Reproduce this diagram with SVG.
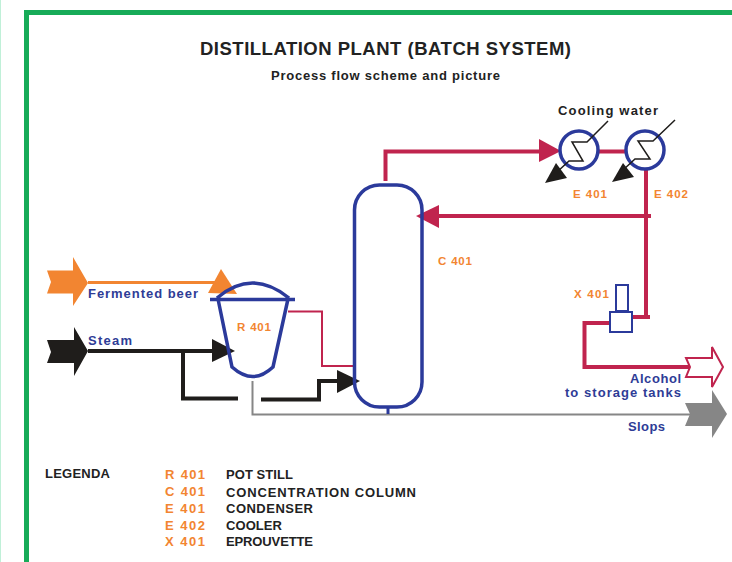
<svg xmlns="http://www.w3.org/2000/svg" width="732" height="562" viewBox="0 0 732 562">
<style>
text{font-family:"Liberation Sans",Arial,sans-serif;font-weight:bold}
.k{fill:#222}.b{fill:#2e3c96}.o{fill:#f28531}
.t{font-size:13px}.tag{font-size:11.5px}
.eq{fill:none;stroke:#2b3a9b;stroke-width:3.5}
.thin{fill:#fff;stroke:#2b3a9b;stroke-width:2}
.r{fill:none;stroke:#c0244e;stroke-width:4}
.r2{fill:none;stroke:#c0244e;stroke-width:2}
.bl{fill:none;stroke:#1f1d1b;stroke-width:4}
.c{fill:none;stroke:#1f1d1b;stroke-width:1.5}
</style>
<rect width="732" height="562" fill="#fff"/>
<rect x="0" y="0" width="1" height="562" fill="#c0f0d8"/>
<path d="M26.500 562V12.500H732" fill="none" stroke="#17ab58" stroke-width="5"/>
<g id="titles">
<text x="200" y="55" font-size="18.500" class="k" textLength="371">DISTILLATION PLANT (BATCH SYSTEM)</text>
<text x="271" y="80" class="k" font-size="13" textLength="229">Process flow scheme and picture</text>
</g>
<g id="connectors">
<path class="r" d="M385.500 181V151.500H541"/>
<path class="r" d="M598 151.500H627"/>
<path class="r" d="M646 169V318"/>
<path class="r" d="M651 216H437"/>
<path class="r" d="M632 317H650"/>
<path class="r" d="M610 323H584.500V367H690"/>
<path class="r2" d="M288 311.500H322V366H354"/>
<path fill="none" stroke="#868686" stroke-width="2" d="M252.500 381V414.500H690"/>
<path class="bl" d="M88 351H214M183 351V398.500H238M261 399.500H319V381H338"/>
<path fill="none" stroke="#f28531" stroke-width="3" d="M88 282.500H216"/>
<path fill="#f28531" d="M47 270.500H73V257L88 283L73 306V293.500H47L51 282Z"/>
<path fill="#f28531" d="M221 269L237 294L208 293Z"/>
<path fill="#1f1d1b" d="M47 340H74V327L88 351L74 376V363H47L51 352Z"/>
<path fill="#1f1d1b" d="M212 339L235 351L212 362Z"/>
<path fill="#1f1d1b" d="M337 370L360 381L337 393Z"/>
<path fill="#c0244e" d="M439 205L416 216L439 228Z"/>
<path fill="#c0244e" d="M539 139L561 151L539 162Z"/>
<path fill="#fff" stroke="#c0244e" stroke-width="2" d="M686 358H712V347L723 367L712 387V377H686L690 367Z"/>
<path fill="#868686" d="M685 403H712V390L727 414L712 438V426H685L690 414Z"/>
</g>
<g id="E401">
<circle class="eq" cx="579" cy="150" r="19"/>
<path class="c" d="M608 121L587 142H572L583 161H569L557 172"/>
<path fill="#1f1d1b" d="M545 183L556 163L567 178Z"/>
<text x="573" y="198" class="o tag" textLength="34">E 401</text>
</g>
<g id="E402">
<circle class="eq" cx="645" cy="150" r="19"/>
<path class="c" d="M675 120L653 141H638L650 159H635L623 170"/>
<path fill="#1f1d1b" d="M612 182L623 163L634 177Z"/>
<text x="654" y="198" class="o tag" textLength="34">E 402</text>
</g>
<g id="C401">
<rect class="eq" x="354.500" y="185" width="67.500" height="222" rx="25" ry="25"/>
<path stroke="#2b3a9b" stroke-width="3" d="M388 407V414"/>
<text x="438" y="265" class="o tag" textLength="34">C 401</text>
</g>
<g id="R401">
<path class="eq" d="M210 299.500H295M217 298Q252 268 289 298M218 299L232 367Q253 386 273 367L288 299"/>
<text x="237" y="331" class="o tag" textLength="34">R 401</text>
</g>
<g id="X401">
<rect class="thin" x="616" y="285" width="12" height="26"/>
<rect class="thin" x="610" y="312" width="22" height="20"/>
<text x="574" y="298" class="o tag" textLength="35">X 401</text>
</g>
<g id="labels">
<text x="558" y="115" class="k t" textLength="100">Cooling water</text>
<text x="88" y="298" class="b t" textLength="110">Fermented beer</text>
<text x="88" y="345" class="b t" textLength="44">Steam</text>
<text x="630" y="382.500" class="b t" textLength="51">Alcohol</text>
<text x="565" y="396.500" class="b t" textLength="116">to storage tanks</text>
<text x="628" y="431" class="b t" textLength="37">Slops</text>
</g>
<g id="legend">
<text x="45" y="478" class="k t" textLength="65">LEGENDA</text>
<text x="165" y="479" class="o t" textLength="40">R 401</text><text x="226" y="479" class="k t" textLength="67">POT STILL</text>
<text x="165" y="496" class="o t" textLength="40">C 401</text><text x="226" y="497" class="k t" textLength="190">CONCENTRATION COLUMN</text>
<text x="165" y="513" class="o t" textLength="40">E 401</text><text x="226" y="513" class="k t" textLength="87">CONDENSER</text>
<text x="165" y="530" class="o t" textLength="40">E 402</text><text x="226" y="530" class="k t" textLength="56">COOLER</text>
<text x="165" y="546" class="o t" textLength="40">X 401</text><text x="226" y="546" class="k t" textLength="87">EPROUVETTE</text>
</g>
</svg>
